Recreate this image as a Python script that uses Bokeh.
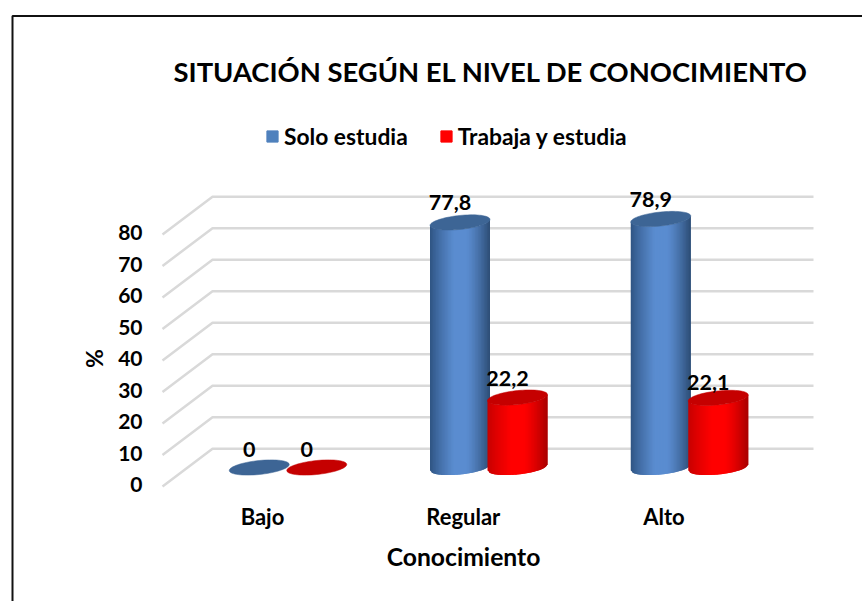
import math
from bokeh.embed import file_html
from bokeh.resources import INLINE
from bokeh.plotting import figure
from bokeh.core.properties import value
from bokeh.models import FixedTicker, Label, Legend, LegendItem, LinearAxis, Range1d

TITLE = "SITUACIÓN SEGÚN EL NIVEL DE CONOCIMIENTO"
CATEGORIES = ["Bajo", "Regular", "Alto"]
SOLO_ESTUDIA = [0, 77.8, 78.9]
TRABAJA_Y_ESTUDIA = [0, 22.2, 22.1]
LABELS_SOLO = ["0", "77,8", "78,9"]
LABELS_TRABAJA = ["0", "22,2", "22,1"]
VALUE_TICKS = [0, 10, 20, 30, 40, 50, 60, 70, 80]
FONT = "Lato"
NAN = float("nan")

# page geometry
PX_X = 200.75         # px per category
PX_Y = 3.15           # px per value unit
FIG_W, FIG_H = 862, 601
X0_PAGE, Y0_PAGE = 262, 484


def dx(px):
    return (px - X0_PAGE) / PX_X


def dy(py):
    return (Y0_PAGE - py) / PX_Y


p = figure(width=FIG_W, height=FIG_H, output_backend="svg", toolbar_location=None,
           x_axis_location=None, y_axis_location=None,
           x_range=Range1d(dx(0), dx(FIG_W)), y_range=Range1d(dy(FIG_H), dy(0)),
           min_border_left=0, min_border_right=0, min_border_top=0, min_border_bottom=0,
           background_fill_color="white", border_fill_color="white", outline_line_color=None)
p.grid.visible = False

yaxis = LinearAxis(ticker=FixedTicker(ticks=VALUE_TICKS), fixed_location=dx(150),
                   axis_line_color=None, major_tick_line_color=None, minor_tick_line_color=None,
                   major_tick_out=0, major_tick_in=0,
                   major_label_text_font=FONT, major_label_text_font_style="bold",
                   major_label_text_font_size="21px", major_label_text_color="black",
                   major_label_standoff=8)
p.add_layout(yaxis, "left")
xaxis = LinearAxis(ticker=FixedTicker(ticks=[0, 1, 2]), fixed_location=dy(498),
                   major_label_overrides={i: c for i, c in enumerate(CATEGORIES)},
                   axis_line_color=None, major_tick_line_color=None, minor_tick_line_color=None,
                   major_tick_out=0, major_tick_in=0,
                   major_label_text_font=FONT, major_label_text_font_style="bold",
                   major_label_text_font_size="22px", major_label_text_color="black",
                   major_label_standoff=4)
p.add_layout(xaxis, "below")

for text, x, y, angle, size, align in [(TITLE, dx(173), dy(71), 0, "27.4px", "left"),
                                       ("%", dx(93), dy(358), math.pi / 2, "23px", "center"),
                                       ("Conocimiento", dx(463), dy(556), 0, "24.7px", "center")]:
    p.add_layout(Label(x=x, y=y, text=text, angle=angle, text_font=FONT, text_font_style="bold",
                       text_font_size=size, text_color="black", text_align=align,
                       text_baseline="middle"))

# outer frame: only its top and left edges land inside the page
p.line([dx(FIG_W + 10), dx(12), dx(12)], [dy(15.5), dy(15.5), dy(FIG_H + 10)],
       line_color="#111111", line_width=2)

# 3-D gridlines: back wall with a diagonal to the front
DEPTH_Y = (484 - 448.3) / PX_Y
FRONT_DROP = 0.6
gx, gy = [], []
for t in VALUE_TICKS:
    gx.append([dx(162), dx(212), dx(813)])
    gy.append([t - FRONT_DROP, t + DEPTH_Y, t + DEPTH_Y])
p.multi_line(gx, gy, line_color="#d9d9d9", line_width=2.5)


def mix(c1, c2, f):
    return "#%02x%02x%02x" % tuple(round(a + (b - a) * f) for a, b in zip(c1, c2))


def shade(u, edge_l, mid, edge_r):
    """u in -1..1 horizontal position across a cylinder"""
    if u < 0:
        return mix(edge_l, mid, min(1, (u + 1) / 0.8) ** 0.8)
    return mix(mid, edge_r, max(0, (u - 0.2) / 0.8) ** 1.3)


BASE_Y = dy(467)    # data height of cylinder-bottom centre
HALF_W = 30 / PX_X
HALF_H = 7 / PX_Y
TILT = 3 / PX_Y
STRIPS = 40


def arc(u):
    return TILT * u - HALF_H * math.sqrt(max(0, 1 - u * u))


def cylinder(cx, val, edge_l, mid, edge_r, top):
    xs, ys, colors = [], [], []
    if val > 0:
        us = [-1 + 2 * i / STRIPS for i in range(STRIPS + 1)]
        for i in range(STRIPS):
            u0 = us[i]
            u1 = us[min(i + 2, STRIPS)]  # overlap the next strip so no seams show
            xs.append([cx + HALF_W * u0, cx + HALF_W * u1, cx + HALF_W * u1, cx + HALF_W * u0])
            ys.append([BASE_Y + arc(u0), BASE_Y + arc(u1), BASE_Y + val + arc(u1), BASE_Y + val + arc(u0)])
            colors.append(shade((us[i] + us[i + 1]) / 2, edge_l, mid, edge_r))
        p.patches(xs, ys, fill_color=colors, line_color=None)
    ex, ey = [], []
    for k in range(72):
        a = 2 * math.pi * k / 72
        ex.append(cx + HALF_W * math.cos(a))
        ey.append(BASE_Y + val + HALF_H * math.sin(a) + TILT * math.cos(a))
    p.patch(ex, ey, fill_color=top, line_color=top, line_width=0.5)


BLUE = ((0x2d, 0x52, 0x80), (0x5a, 0x8c, 0xd0), (0x2c, 0x4c, 0x74), "#3d6595")
RED = ((0xc4, 0x00, 0x00), (0xff, 0x00, 0x00), (0xa8, 0x00, 0x00), "#c50000")
OFF_BLUE, OFF_RED = (258.75 - X0_PAGE) / PX_X, (316.25 - X0_PAGE) / PX_X

for i in range(len(CATEGORIES)):
    cylinder(i + OFF_BLUE, SOLO_ESTUDIA[i], *BLUE)
    cylinder(i + OFF_RED, TRABAJA_Y_ESTUDIA[i], *RED)

# data labels
LABEL_DX = -10 / PX_X
LABEL_DY = 18 / PX_Y
NUDGE_SOLO = [0, -2, -1]
NUDGE_TRABAJA = [0, -1, 3]
lx = [i + OFF_BLUE + LABEL_DX for i in range(3)] + [i + OFF_RED + LABEL_DX for i in range(3)]
ly = ([BASE_Y + v + LABEL_DY - n / PX_Y for v, n in zip(SOLO_ESTUDIA, NUDGE_SOLO)]
      + [BASE_Y + v + LABEL_DY - n / PX_Y for v, n in zip(TRABAJA_Y_ESTUDIA, NUDGE_TRABAJA)])
p.text(lx, ly, text=LABELS_SOLO + LABELS_TRABAJA, text_font=value(FONT), text_font_style="bold",
       text_font_size="21.5px", text_color="black", text_align="center", text_baseline="middle")

# legend
r1 = p.quad(left=[NAN], right=[NAN], top=[NAN], bottom=[NAN], fill_color="#4f81bd", line_color="#4f81bd")
r2 = p.quad(left=[NAN], right=[NAN], top=[NAN], bottom=[NAN], fill_color="#ff0000", line_color="#ff0000")
legend = Legend(items=[LegendItem(label="Solo estudia", renderers=[r1]),
                       LegendItem(label="Trabaja y estudia", renderers=[r2])],
                orientation="horizontal", location=(265, 451), margin=0, padding=0, spacing=31,
                glyph_width=14, glyph_height=14, label_standoff=5,
                label_text_font=FONT, label_text_font_style="bold", label_text_font_size="22.8px",
                label_text_color="black", border_line_color=None, background_fill_alpha=0)
p.add_layout(legend, "center")

open("out.html", "w").write(file_html(p, INLINE))
